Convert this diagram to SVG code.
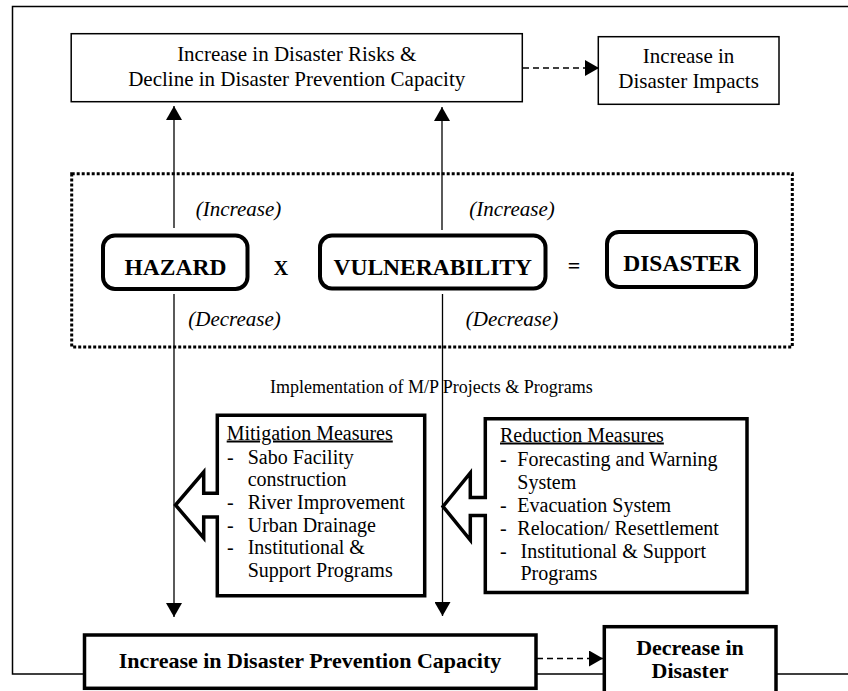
<svg xmlns="http://www.w3.org/2000/svg" width="848" height="691" viewBox="0 0 848 691">
  <style>
    text { font-family: "Liberation Serif", "Times New Roman", serif; fill: #000; }
    .t21 { font-size: 21px; }
    .t20 { font-size: 20px; }
    .t18 { font-size: 18px; }
    .it { font-size: 21px; font-style: italic; }
    .big { font-size: 23.5px; font-weight: bold; }
    .b22 { font-size: 22px; font-weight: bold; }
    .thin { fill: #fff; stroke: #000; stroke-width: 1.5; }
    .thick { fill: #fff; stroke: #000; stroke-width: 3.5; }
    .round { fill: #fff; stroke: #000; stroke-width: 4; }
    .line { fill: none; stroke: #000; stroke-width: 1.3; }
    .dash { fill: none; stroke: #000; stroke-width: 1.5; stroke-dasharray: 6 4; }
    .dotted { fill: none; stroke: #000; stroke-width: 3; stroke-dasharray: 3 2; }
  </style>
  <defs>
    <marker id="ah" viewBox="0 0 14 16" refX="14" refY="8" markerWidth="14" markerHeight="16" markerUnits="userSpaceOnUse" orient="auto">
      <path d="M0,0 L14,8 L0,16 Z" fill="#000"/>
    </marker>
  </defs>

  <rect width="848" height="691" fill="#fff"/>

  <!-- outer frame -->
  <path id="frame" d="M849,6.5 H12.5 V674 H849" fill="none" stroke="#000" stroke-width="1.5"/>

  <!-- dotted region -->
  <rect id="equation-area" class="dotted" x="71.7" y="173.7" width="720.6" height="173.3"/>

  <!-- connectors -->
  <g id="connectors">
    <line class="line" x1="174" y1="228" x2="174" y2="106" marker-end="url(#ah)"/>
    <line class="line" x1="442" y1="230" x2="442" y2="107" marker-end="url(#ah)"/>
    <line class="line" x1="174" y1="294" x2="174" y2="617" marker-end="url(#ah)"/>
    <line class="line" x1="442.5" y1="294" x2="442.5" y2="616" marker-end="url(#ah)"/>
    <line class="dash" x1="523" y1="68" x2="599" y2="68" marker-end="url(#ah)"/>
    <line class="dash" x1="537" y1="658.5" x2="603" y2="658.5" marker-end="url(#ah)"/>
  </g>

  <g id="top-box">
    <rect class="thin" x="71.2" y="33.7" width="451.1" height="68"/>
    <text class="t21" x="296.7" y="60.5" text-anchor="middle">Increase in Disaster Risks &amp;</text>
    <text class="t21" x="296.7" y="85.5" text-anchor="middle">Decline in Disaster Prevention Capacity</text>
  </g>

  <g id="impacts-box">
    <rect class="thin" x="598.3" y="36.7" width="180.7" height="67.6"/>
    <text class="t21" x="688.6" y="63" text-anchor="middle">Increase in</text>
    <text class="t21" x="688.6" y="88" text-anchor="middle">Disaster Impacts</text>
  </g>

  <g id="labels">
    <text class="it" x="238.5" y="216" text-anchor="middle">(Increase)</text>
    <text class="it" x="512" y="216" text-anchor="middle">(Increase)</text>
    <text class="it" x="234.5" y="326" text-anchor="middle">(Decrease)</text>
    <text class="it" x="512" y="326" text-anchor="middle">(Decrease)</text>
    <text class="big" x="281" y="275" text-anchor="middle" style="font-size:20px">X</text>
    <text class="big" x="574" y="273" text-anchor="middle" style="font-size:22px">=</text>
    <text class="t18" x="270" y="393">Implementation of M/P Projects &amp; Programs</text>
  </g>

  <g id="hazard">
    <rect class="round" x="103" y="235.5" width="144.5" height="53.5" rx="12"/>
    <text class="big" x="175.5" y="275" text-anchor="middle">HAZARD</text>
  </g>

  <g id="vulnerability">
    <rect class="round" x="320" y="235.5" width="225.5" height="53" rx="12"/>
    <text class="big" x="432.7" y="275" text-anchor="middle">VULNERABILITY</text>
  </g>

  <g id="disaster">
    <rect class="round" x="607" y="232" width="149" height="55" rx="12"/>
    <text class="big" x="682" y="271" text-anchor="middle">DISASTER</text>
  </g>

  <g id="mitigation">
    <path class="thick" d="M217.3,415.3 H424.7 V595.7 H217.3 V517 H203.7 V538 L175.5,505 L203.7,472 V493.3 H217.3 Z"/>
    <text class="t20" x="226.7" y="439.5" text-decoration="underline">Mitigation Measures</text>
    <text class="t20" x="227" y="463.5">-</text>
    <text class="t20" x="247.7" y="463.5">Sabo Facility</text>
    <text class="t20" x="247.7" y="486">construction</text>
    <text class="t20" x="227" y="509">-</text>
    <text class="t20" x="247.7" y="509">River Improvement</text>
    <text class="t20" x="227" y="531.5">-</text>
    <text class="t20" x="247.7" y="531.5">Urban Drainage</text>
    <text class="t20" x="227" y="554">-</text>
    <text class="t20" x="247.7" y="554">Institutional &amp;</text>
    <text class="t20" x="247.7" y="576.5">Support Programs</text>
  </g>

  <g id="reduction">
    <path class="thick" d="M485.3,418.7 H747 V592.5 H485.3 V515.5 H470.3 V540 L443,506.5 L470.3,473 V497.5 H485.3 Z"/>
    <text class="t20" x="500" y="441.5" text-decoration="underline">Reduction Measures</text>
    <text class="t20" x="500" y="466">-</text>
    <text class="t20" x="517.3" y="466">Forecasting and Warning</text>
    <text class="t20" x="517.3" y="489">System</text>
    <text class="t20" x="500" y="512">-</text>
    <text class="t20" x="517.3" y="512">Evacuation System</text>
    <text class="t20" x="500" y="535">-</text>
    <text class="t20" x="517.3" y="535">Relocation/ Resettlement</text>
    <text class="t20" x="500" y="557.5">-</text>
    <text class="t20" x="520.5" y="557.5">Institutional &amp; Support</text>
    <text class="t20" x="520.5" y="580">Programs</text>
  </g>

  <g id="capacity-box">
    <rect class="thick" x="84.5" y="635" width="451.5" height="53.3"/>
    <text class="b22" x="310" y="668" text-anchor="middle">Increase in Disaster Prevention Capacity</text>
  </g>

  <g id="decrease-box">
    <rect class="thick" x="604.3" y="626.7" width="171.7" height="80"/>
    <text class="b22" x="690" y="655" text-anchor="middle">Decrease in</text>
    <text class="b22" x="690" y="678.3" text-anchor="middle">Disaster</text>
  </g>
</svg>
